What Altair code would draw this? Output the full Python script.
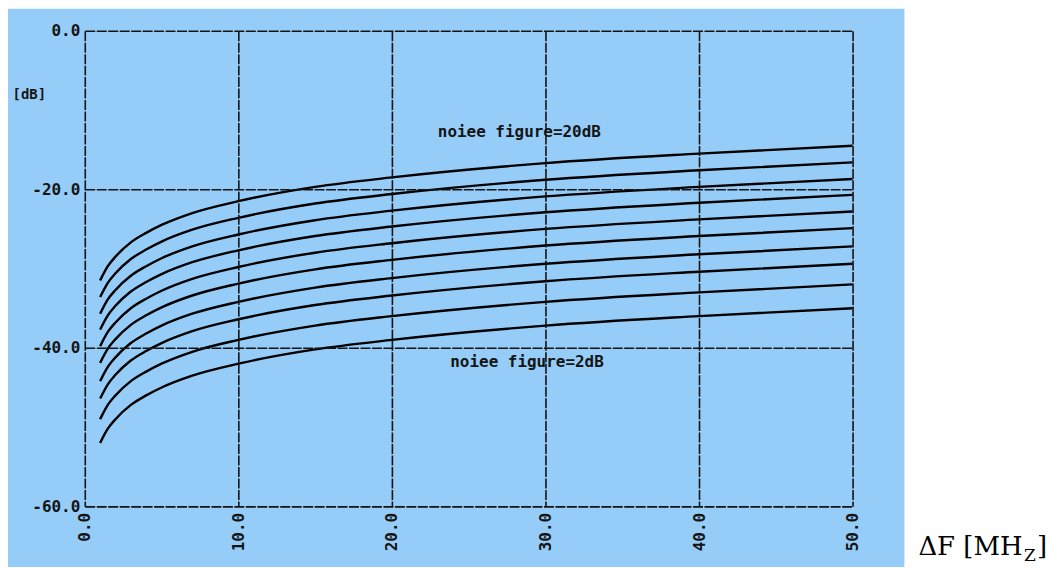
import altair as alt
import pandas as pd

# ---- data ----
freq = [1, 1.5, 2, 3, 4, 5, 7, 10, 15, 20, 30, 40, 50]
c1 = [-31.5, -29.7, -28.5, -26.7, -25.5, -24.5, -23.0, -21.5, -19.7, -18.5, -16.7, -15.5, -14.5]
c2 = [-33.6, -31.8, -30.6, -28.8, -27.6, -26.6, -25.1, -23.6, -21.8, -20.6, -18.8, -17.6, -16.6]
c3 = [-35.7, -33.9, -32.7, -30.9, -29.7, -28.7, -27.2, -25.7, -23.9, -22.7, -20.9, -19.7, -18.7]
c4 = [-37.7, -35.9, -34.7, -32.9, -31.7, -30.7, -29.2, -27.7, -25.9, -24.7, -22.9, -21.7, -20.7]
c5 = [-39.8, -38.0, -36.8, -35.0, -33.8, -32.8, -31.3, -29.8, -28.0, -26.8, -25.0, -23.8, -22.8]
c6 = [-41.9, -40.1, -38.9, -37.1, -35.9, -34.9, -33.4, -31.9, -30.1, -28.9, -27.1, -25.9, -24.9]
c7 = [-44.2, -42.4, -41.2, -39.4, -38.2, -37.2, -35.7, -34.2, -32.4, -31.2, -29.4, -28.2, -27.2]
c8 = [-46.4, -44.6, -43.4, -41.6, -40.4, -39.4, -37.9, -36.4, -34.6, -33.4, -31.6, -30.4, -29.4]
c9 = [-49.0, -47.2, -46.0, -44.2, -43.0, -42.0, -40.5, -39.0, -37.2, -36.0, -34.2, -33.0, -32.0]
c10 = [-52.0, -50.2, -49.0, -47.2, -46.0, -45.0, -43.5, -42.0, -40.2, -39.0, -37.2, -36.0, -35.0]

x_ticks = [0, 10, 20, 30, 40, 50]
y_ticks = [0, -20, -40, -60]

note_text = ["noiee figure=20dB", "noiee figure=2dB"]
note_x = [28.3, 28.8]
note_y = [-12.8, -41.8]

y_title = "[dB]"
x_title_parts = ["ΔF [MH", "Z", "]"]

# ---- tables ----
series = [c1, c2, c3, c4, c5, c6, c7, c8, c9, c10]
rows = []
for i, s in enumerate(series):
    for f, v in zip(freq, s):
        rows.append({"f": f, "v": v, "curve": i})
df = pd.DataFrame(rows)
notes = pd.DataFrame({"x": note_x, "y": note_y, "t": note_text})

BLUE = "#95cdf8"
INK = "#141414"
MONO = "DejaVu Sans Mono"

xenc = alt.X(
    "f:Q",
    scale=alt.Scale(domain=[0, 50], nice=False),
    axis=alt.Axis(
        values=x_ticks, labelExpr="datum.value + '.0'", labelAngle=270,
        labelFont=MONO, labelFontWeight="bold", labelFontSize=16, labelColor=INK,
        labelPadding=6, ticks=False, domain=False, grid=True,
        gridColor=INK, gridWidth=1.6, gridDash=[10, 1.5], gridOpacity=1,
        title=None, zindex=1,
    ),
)
yenc = alt.Y(
    "v:Q",
    scale=alt.Scale(domain=[-60, 0], nice=False),
    axis=alt.Axis(
        values=y_ticks, labelExpr="datum.value + '.0'",
        labelFont=MONO, labelFontWeight="bold", labelFontSize=16, labelColor=INK,
        labelPadding=5, ticks=False, domain=False, grid=True,
        gridColor=INK, gridWidth=1.6, gridDash=[10, 1.5], gridOpacity=1,
        title=y_title, titleAngle=0, titleX=-73, titleY=64, titleAlign="left",
        titleBaseline="middle", titleFont=MONO, titleFontWeight="bold",
        titleFontSize=14, titleColor=INK, zindex=1,
    ),
)

panel = alt.Chart(pd.DataFrame({"a": [0]})).mark_rect(color=BLUE).encode(
    x=alt.value(-77), x2=alt.value(822), y=alt.value(-22), y2=alt.value(545)
)

lines = alt.Chart(df).mark_line(
    color="black", strokeWidth=2.4, interpolate="monotone"
).encode(x=xenc, y=yenc, detail="curve:N")

note_marks = alt.Chart(notes).mark_text(
    font=MONO, fontWeight="bold", fontSize=16, color=INK
).encode(x="x:Q", y="y:Q", text="t:N")

t_main = alt.Chart(pd.DataFrame({"t": [x_title_parts[0]]})).mark_text(
    font="DejaVu Serif", fontSize=26, color="black", align="left", baseline="alphabetic"
).encode(x=alt.value(836), y=alt.value(526), text="t:N")
t_sub = alt.Chart(pd.DataFrame({"t": [x_title_parts[1]]})).mark_text(
    font="DejaVu Serif", fontSize=17, color="black", align="left", baseline="alphabetic"
).encode(x=alt.value(942), y=alt.value(532), text="t:N")
t_end = alt.Chart(pd.DataFrame({"t": [x_title_parts[2]]})).mark_text(
    font="DejaVu Serif", fontSize=26, color="black", align="left", baseline="alphabetic"
).encode(x=alt.value(955), y=alt.value(526), text="t:N")

chart = alt.layer(panel, lines, note_marks, t_main, t_sub, t_end).properties(
    width=770, height=477,
    autosize=alt.AutoSizeParams(type="none"),
    padding={"left": 77, "top": 22, "right": 202, "bottom": 60},
).configure(background="white").configure_view(stroke=None)

chart.save("out.html", embed_options={"renderer": "svg", "actions": False})
